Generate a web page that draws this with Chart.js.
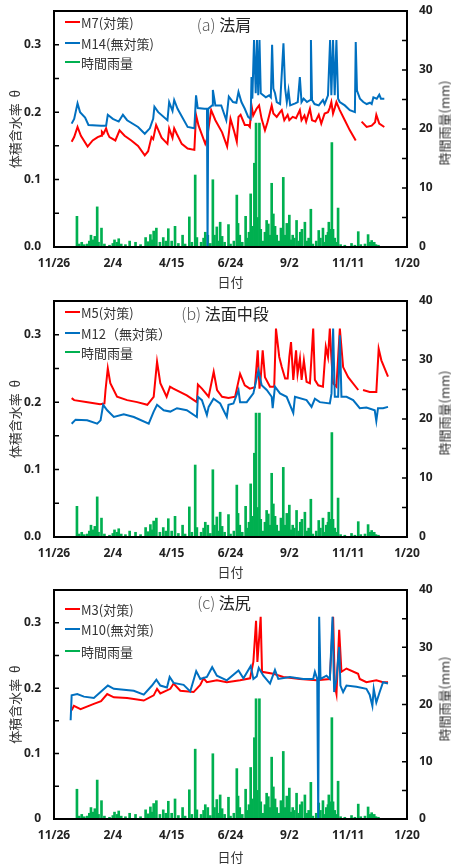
<!DOCTYPE html>
<html lang="ja">
<head>
<meta charset="utf-8">
<script src="https://cdn.jsdelivr.net/npm/chart.js@4.4.1/dist/chart.umd.min.js"></script>
<style>
html, body { margin: 0; padding: 0; background: #fff; }
body { width: 451px; height: 865px; position: relative; overflow: hidden;
  font-family: "Noto Sans CJK JP", "Noto Sans", sans-serif; color: #333; }
.panel { position: absolute; left: 0; width: 451px; }
.panel canvas { position: absolute; left: 0; top: 0; }
.lg { position: absolute; left: 65px; height: 16px; display: flex; align-items: center;
  font-size: 13px; white-space: nowrap; color: #333; }
.lg i { display: block; width: 15px; height: 2px; margin-right: 1px; }
.ttl { position: absolute; font-size: 16px; white-space: nowrap; transform: translate(-50%, -50%); color: #222; }
.ttl span { color: #555; font-weight: 300; }
.rt { position: absolute; left: 444px; font-size: 13px; white-space: nowrap; color: #333;
  transform: translate(-50%, -50%) rotate(-90deg); }
</style>
</head>
<body>
<div class="panel" id="pa" style="top:0;height:290px"><canvas id="ca" width="451" height="290"></canvas></div>
<div class="panel" id="pb" style="top:290px;height:290px"><canvas id="cb" width="451" height="290"></canvas></div>
<div class="panel" id="pc" style="top:580px;height:285px"><canvas id="cc" width="451" height="285"></canvas></div>
<script>
// axis ticks (x = days after 11/26)
const xTicks = [0, 70, 140, 210, 280, 350, 420];
const xLabels = ['11/26', '2/4', '4/15', '6/24', '9/2', '11/11', '1/20'];
const yTicks = [0, 0.05, 0.1, 0.15, 0.2, 0.25, 0.3, 0.35];
const yLabelsAB = ['0.0', '', '0.1', '', '0.2', '', '0.3', ''];
const yLabelsC = ['0', '', '0.1', '', '0.2', '', '0.3', ''];
const rainTicks = [0, 5, 10, 15, 20, 25, 30, 35, 40];
const rainLabels = ['0', '', '10', '', '20', '', '30', '', '40'];

// hourly rain (mm), shared by all panels
const rainDay = [27.3, 30, 33, 36, 39.5, 42, 44, 46, 48.6, 51.4, 53, 56.5, 60, 66, 70, 72, 75, 77, 80, 85, 90, 97, 103, 109, 112, 114.7, 117, 118.6, 121.8, 126, 130, 133, 136, 140, 144, 148, 153, 156, 161, 164, 168, 170, 175, 178, 180, 183, 186, 189, 191, 193.7, 196, 197.7, 200, 203, 207.6, 210, 214, 217.5, 219, 221, 224, 228, 230, 232, 234, 236, 238.4, 240.4, 242, 244.4, 246, 249, 251, 253, 255, 257, 259, 261, 263, 265, 268, 270, 272.8, 275, 277, 280, 282, 284, 286, 288.6, 291, 293, 295, 298.5, 301, 303, 305.6, 308, 312, 315, 317, 320, 322, 324, 326, 327, 329, 330.6, 332, 334, 336, 338, 341, 346, 354, 358, 362, 365, 370, 373.7, 376, 378, 381, 383, 386];
const rainMm = [5.2, 0.5, 0.8, 0.4, 0.5, 1.0, 2.0, 1.2, 1.8, 6.8, 0.8, 3.2, 0.5, 0.3, 0.6, 1.2, 0.8, 1.4, 0.5, 0.4, 1.0, 0.8, 0.4, 1.6, 0.9, 2.1, 1.2, 2.7, 3.2, 0.8, 1.6, 1.0, 3.1, 1.0, 3.5, 0.6, 2.0, 0.5, 5.1, 0.8, 12.2, 1.6, 0.8, 1.5, 2.5, 2.0, 0.6, 11.4, 2.0, 3.4, 1.0, 4.2, 1.8, 0.8, 3.8, 0.5, 1.0, 8.8, 4.0, 2.0, 0.8, 5.2, 1.5, 2.5, 9.0, 3.5, 14.2, 21, 5.0, 21, 3.0, 1.0, 2.5, 4.5, 3.9, 2.0, 10.8, 5.6, 3.5, 2.0, 1.0, 3.2, 11.8, 2.0, 4.0, 5.4, 1.2, 2.0, 1.5, 4.5, 1.0, 2.5, 3.0, 4.2, 1.0, 1.5, 6.4, 0.5, 1.0, 2.8, 1.5, 3.2, 0.8, 2.0, 2.5, 4.2, 3.0, 17.7, 3.0, 1.5, 0.8, 6.6, 0.4, 0.3, 0.6, 0.3, 2.6, 0.4, 0.5, 2.1, 0.8, 1.1, 0.8, 0.4, 0.3];

// (a) 法肩
const m7Day = [21, 24, 28, 32, 40, 46, 52, 56, 57, 59, 62, 64, 66, 73, 78, 84, 92, 100, 108, 112, 116, 118, 121.5, 128, 135, 137, 141, 143, 146, 152, 159, 167, 169, 172, 180, 182, 187, 192, 200, 206, 208, 210, 214, 217.5, 219.5, 222, 227, 231, 233, 235, 237, 239, 241, 244, 247, 251, 254, 257, 259, 261, 265, 269, 271, 274, 278, 280, 284, 288, 292.5, 294.5, 298, 300, 304.5, 307, 311, 315, 318, 322, 326, 328, 330, 332, 334, 336, 340, 346, 352, 359, 362, 366, 372, 378, 382, 383.5, 387, 393];
const m7 = [0.156, 0.163, 0.178, 0.165, 0.149, 0.158, 0.163, 0.165, 0.171, 0.168, 0.176, 0.168, 0.163, 0.158, 0.173, 0.165, 0.158, 0.150, 0.136, 0.142, 0.163, 0.160, 0.181, 0.162, 0.153, 0.176, 0.162, 0.176, 0.168, 0.153, 0.146, 0.144, 0.196, 0.180, 0.153, 0.160, 0.203, 0.188, 0.170, 0.149, 0.168, 0.190, 0.173, 0.156, 0.193, 0.196, 0.181, 0.181, 0.178, 0.210, 0.195, 0.200, 0.205, 0.210, 0.190, 0.173, 0.185, 0.200, 0.210, 0.198, 0.193, 0.200, 0.203, 0.188, 0.196, 0.188, 0.193, 0.191, 0.203, 0.188, 0.195, 0.186, 0.205, 0.188, 0.186, 0.196, 0.183, 0.198, 0.200, 0.206, 0.215, 0.198, 0.206, 0.215, 0.203, 0.188, 0.173, 0.158, null, 0.186, 0.178, 0.180, 0.185, 0.196, 0.183, 0.178];
const m14Day = [21, 24, 28, 31, 37, 41, 56, 62, 64, 70, 77, 82, 87, 100, 108, 114, 118, 119.5, 124, 135, 137, 141, 143, 147, 159, 167, 169, 171, 179, 182, 182.7, 183.5, 188, 189, 192, 199, 205, 208, 213, 217, 219.5, 223, 227, 231, 234, 235, 236, 238, 240, 241.5, 243, 244.5, 246, 252, 256, 258, 259.5, 261, 263, 265, 269, 273, 275, 277, 279, 281, 287, 290, 292.5, 294.5, 297, 301, 305, 305.7, 307, 310, 315, 318, 320, 322, 326, 328.5, 330, 332, 334, 336, 338, 340, 346, 352, 358, 359, 360.5, 364, 368, 372, 376, 378, 380, 384, 387, 389, 393];
const m14 = [0.183, 0.190, 0.213, 0.200, 0.192, 0.181, 0.180, 0.180, 0.196, 0.190, 0.186, 0.196, 0.188, 0.178, 0.168, 0.176, 0.190, 0.208, 0.200, 0.188, 0.215, 0.202, 0.218, 0.205, 0.178, 0.176, 0.225, 0.206, 0.205, 0.205, 0.0, 0.205, 0.210, 0.233, 0.210, 0.210, 0.188, 0.223, 0.215, 0.214, 0.230, 0.215, 0.205, 0.193, 0.190, 0.252, 0.220, 0.307, 0.228, 0.307, 0.225, 0.307, 0.228, 0.222, 0.225, 0.222, 0.300, 0.235, 0.228, 0.215, 0.212, 0.302, 0.235, 0.215, 0.232, 0.210, 0.213, 0.215, 0.252, 0.215, 0.220, 0.215, 0.218, 0.307, 0.218, 0.212, 0.210, 0.215, 0.218, 0.212, 0.225, 0.307, 0.225, 0.307, 0.225, 0.307, 0.220, 0.215, 0.210, 0.203, 0.200, 0.304, 0.232, 0.220, 0.215, 0.212, 0.214, 0.212, 0.222, 0.220, 0.226, 0.220, 0.220];

// (b) 法面中段
const m5Day = [21, 24, 40, 55, 60, 61.3, 64, 67, 75, 87, 99, 111, 118.6, 122.6, 126.5, 134, 138, 142, 158, 170, 171.2, 176, 184, 190, 194, 200, 207.6, 215.5, 221.4, 227, 233, 239, 242.4, 244.5, 246, 248.3, 251, 257, 262, 264.1, 268, 271, 275, 278, 280, 282, 284.7, 288, 289.8, 292.6, 294.6, 297.3, 300.5, 304.5, 308.4, 310.4, 314.4, 320, 323.4, 326, 328.2, 330, 332, 336, 340.1, 344, 350, 362, 364, 367.7, 375.6, 383.5, 386.3, 389.5, 397.4];
const m5 = [0.206, 0.203, 0.200, 0.197, 0.198, 0.218, 0.250, 0.228, 0.208, 0.203, 0.200, 0.196, 0.208, 0.260, 0.228, 0.208, 0.223, 0.220, 0.210, 0.200, 0.226, 0.220, 0.208, 0.245, 0.218, 0.208, 0.206, 0.208, 0.242, 0.225, 0.220, 0.222, 0.277, 0.220, 0.237, 0.277, 0.237, 0.223, 0.223, 0.309, 0.267, 0.252, 0.235, 0.235, 0.267, 0.289, 0.233, 0.277, 0.242, 0.265, 0.233, 0.262, 0.230, 0.228, 0.309, 0.233, 0.225, 0.223, 0.282, 0.267, 0.309, 0.267, 0.228, 0.223, 0.309, 0.252, 0.237, 0.218, null, 0.218, 0.215, 0.215, 0.279, 0.262, 0.238];
const m12Day = [21, 25.7, 39.5, 51.4, 55.4, 58.5, 63.3, 71.2, 83, 95, 112.7, 118.6, 122.6, 130.5, 138.4, 146.3, 158, 170, 171.2, 176, 181.9, 184, 189.8, 197.7, 205.6, 207.6, 213.5, 219.5, 221.4, 229.3, 237.2, 243.2, 247.1, 253.1, 259, 260.2, 262.9, 268.9, 276.8, 284.7, 286.7, 300.5, 306.4, 310.4, 316.3, 328.2, 330.2, 332.1, 334.1, 338.1, 340.1, 342, 348, 355.9, 363.8, 371.7, 381.6, 383.5, 385.5, 391.5, 397.4];
const m12 = [0.168, 0.174, 0.173, 0.168, 0.173, 0.196, 0.188, 0.178, 0.182, 0.178, 0.168, 0.186, 0.196, 0.188, 0.186, 0.191, 0.188, 0.178, 0.208, 0.203, 0.181, 0.193, 0.205, 0.198, 0.178, 0.196, 0.198, 0.218, 0.200, 0.200, 0.213, 0.247, 0.225, 0.218, 0.208, 0.191, 0.223, 0.213, 0.208, 0.184, 0.208, 0.203, 0.193, 0.205, 0.200, 0.198, 0.213, 0.309, 0.208, 0.208, 0.299, 0.208, 0.208, 0.203, 0.191, 0.192, 0.188, 0.172, 0.191, 0.191, 0.193];

// (c) 法尻
const m3Day = [21, 23.7, 31.6, 47.4, 56, 63.3, 71.2, 87, 106.8, 118.6, 122.6, 126.5, 138.4, 142.3, 150.3, 166.1, 174, 177.9, 181.9, 193.8, 205.6, 221.4, 233.3, 237.2, 240.4, 242, 245.9, 247.5, 261, 272.8, 292.6, 312.4, 328.2, 332.1, 334.1, 336.1, 339.3, 342, 348, 361.8, 363.8, 371.7, 383.5, 391.5, 397.4];
const m3 = [0.166, 0.173, 0.168, 0.176, 0.180, 0.191, 0.186, 0.185, 0.181, 0.189, 0.199, 0.192, 0.199, 0.207, 0.196, 0.194, 0.205, 0.215, 0.209, 0.212, 0.209, 0.212, 0.215, 0.240, 0.303, 0.240, 0.309, 0.225, 0.222, 0.217, 0.214, 0.212, 0.214, 0.309, 0.204, 0.191, 0.289, 0.225, 0.230, 0.222, 0.214, 0.209, 0.212, 0.209, 0.209];
const m10Day = [19.8, 21, 27.7, 35.6, 47.4, 55.4, 64.1, 71.2, 94.9, 106.8, 116.6, 121.8, 126.5, 134.4, 137.6, 142.3, 154.2, 162.1, 169.2, 174, 181.9, 188.2, 193.8, 205.6, 219.5, 225.4, 234.1, 237.2, 241.2, 243.6, 249.1, 257, 262.9, 266.9, 280.7, 296.6, 308.4, 310.4, 313.2, 314.4, 315.5, 317.1, 324.2, 328.2, 331.4, 333.3, 336.1, 339.3, 340.8, 344, 348, 359.8, 371.7, 375.6, 378.8, 380.4, 383.5, 387.5, 391.5, 397.4];
const m10 = [0.151, 0.189, 0.191, 0.187, 0.185, 0.194, 0.204, 0.199, 0.196, 0.190, 0.204, 0.213, 0.204, 0.201, 0.217, 0.208, 0.205, 0.195, 0.226, 0.214, 0.217, 0.232, 0.219, 0.212, 0.227, 0.215, 0.234, 0.214, 0.218, 0.231, 0.219, 0.207, 0.228, 0.214, 0.217, 0.214, 0.214, 0.225, 0.214, 0.0, 0.309, 0.214, 0.219, 0.214, 0.309, 0.194, 0.214, 0.263, 0.204, 0.194, 0.204, 0.202, 0.199, 0.190, 0.173, 0.199, 0.178, 0.194, 0.209, 0.207];

const RED = '#ff0000', BLUE = '#0070c0', GREEN = '#00b050';
const tickFont = { family: '"Noto Sans", sans-serif', size: 12, weight: 'bold' };
const titleFont = { family: '"Noto Sans CJK JP", sans-serif', size: 13 };

// frame box + inward tick marks
const framePlugin = {
  id: 'frame',
  afterDatasetsDraw(chart) {
    const { ctx, chartArea: a, scales } = chart;
    ctx.save();
    ctx.strokeStyle = '#000';
    ctx.lineWidth = 2;
    ctx.strokeRect(a.left, a.top, a.right - a.left, a.bottom - a.top);
    ctx.lineWidth = 1.5;
    ctx.beginPath();
    scales.y.ticks.forEach(t => {
      const y = scales.y.getPixelForValue(t.value);
      ctx.moveTo(a.left, y); ctx.lineTo(a.left + 5, y);
    });
    scales.y2.ticks.forEach(t => {
      const y = scales.y2.getPixelForValue(t.value);
      ctx.moveTo(a.right - 5, y); ctx.lineTo(a.right, y);
    });
    ctx.stroke();
    ctx.restore();
  }
};

function pts(days, vals) {
  return days.map((d, i) => ({ x: d, y: vals[i] }));
}

// fixed box sizes, no label overflow padding
function fitTo(prop, size) {
  return s => {
    s[prop] = size;
    s.paddingTop = 0; s.paddingBottom = 0; s.paddingLeft = 0; s.paddingRight = 0;
  };
}

function makePanel(p) {
  const chart = new Chart(document.getElementById(p.canvas), {
    type: 'line',
    data: {
      datasets: [
        { label: p.redName, data: pts(p.redDay, p.red), borderColor: RED, yAxisID: 'y', order: 1 },
        { label: p.blueName, data: pts(p.blueDay, p.blue), borderColor: BLUE, yAxisID: 'y', order: 0 },
        { type: 'bar', label: '時間雨量', data: pts(rainDay, rainMm), backgroundColor: GREEN,
          borderWidth: 0, yAxisID: 'y2', barThickness: 2, order: 2 }
      ]
    },
    options: {
      responsive: false,
      devicePixelRatio: 1,
      animation: false,
      layout: { padding: { top: p.top, left: 0, right: 0, bottom: 0 } },
      elements: {
        line: { borderWidth: 2, tension: 0 },
        point: { radius: 0 }
      },
      spanGaps: false,
      plugins: { legend: { display: false }, tooltip: { enabled: false } },
      scales: {
        x: {
          type: 'linear', min: 0, max: 420, offset: false,
          afterBuildTicks: s => { s.ticks = xTicks.map(v => ({ value: v })); },
          afterFit: fitTo('height', p.xh),
          grid: { display: false, drawTicks: false, offset: false },
          border: { display: false },
          ticks: { callback: (v, i) => xLabels[i], font: tickFont, color: '#222',
            padding: 9, maxRotation: 0, autoSkip: false },
          title: { display: true, text: '日付', font: titleFont, color: '#333', padding: 0 }
        },
        y: {
          position: 'left', min: 0, max: 0.35,
          afterBuildTicks: s => { s.ticks = yTicks.map(v => ({ value: v })); },
          afterFit: fitTo('width', 54),
          grid: { display: false, drawTicks: false },
          border: { display: false },
          ticks: { callback: (v, i) => p.yLabels[i], font: tickFont, color: '#222', padding: 13 },
          title: { display: true, text: '体積含水率  θ', font: titleFont, color: '#333', padding: { top: 7 } }
        },
        y2: {
          position: 'right', min: 0, max: 40,
          afterBuildTicks: s => { s.ticks = rainTicks.map(v => ({ value: v })); },
          afterFit: fitTo('width', 44),
          grid: { display: false, drawTicks: false },
          border: { display: false },
          ticks: { callback: (v, i) => rainLabels[i], font: tickFont, color: '#222', padding: 12 }
        }
      }
    },
    plugins: [framePlugin]
  });

  // legend, panel title and right axis title as html text
  const box = document.getElementById(p.box);
  const colors = [RED, BLUE, GREEN];
  [0, 1, 2].forEach(k => {
    const d = document.createElement('div');
    d.className = 'lg';
    d.style.top = (p.legendY[k] - 8) + 'px';
    d.innerHTML = '<i style="background:' + colors[k] + '"></i>' + chart.data.datasets[k].label;
    box.appendChild(d);
  });
  const t = document.createElement('div');
  t.className = 'ttl';
  t.style.left = p.titleX + 'px';
  t.style.top = p.titleY + 'px';
  t.innerHTML = '<span>' + p.tag + '</span> ' + p.title;
  box.appendChild(t);
  const r = document.createElement('div');
  r.className = 'rt';
  r.style.top = p.rtY + 'px';
  r.textContent = '時間雨量(mm)';
  box.appendChild(r);
}

makePanel({ canvas: 'ca', box: 'pa', top: 11, xh: 43, yLabels: yLabelsAB,
  redName: 'M7(対策)', redDay: m7Day, red: m7, blueName: 'M14(無対策)', blueDay: m14Day, blue: m14,
  legendY: [22, 43, 62], tag: '(a)', title: '法肩', titleX: 224, titleY: 24, rtY: 123 });
makePanel({ canvas: 'cb', box: 'pb', top: 11, xh: 43, yLabels: yLabelsAB,
  redName: 'M5(対策)', redDay: m5Day, red: m5, blueName: 'M12（無対策）', blueDay: m12Day, blue: m12,
  legendY: [22, 43, 62], tag: '(b)', title: '法面中段', titleX: 225, titleY: 23, rtY: 123 });
makePanel({ canvas: 'cc', box: 'pc', top: 10, xh: 46, yLabels: yLabelsC,
  redName: 'M3(対策)', redDay: m3Day, red: m3, blueName: 'M10(無対策)', blueDay: m10Day, blue: m10,
  legendY: [29, 49, 71], tag: '(c)', title: '法尻', titleX: 224, titleY: 22, rtY: 119 });
</script>
</body>
</html>
